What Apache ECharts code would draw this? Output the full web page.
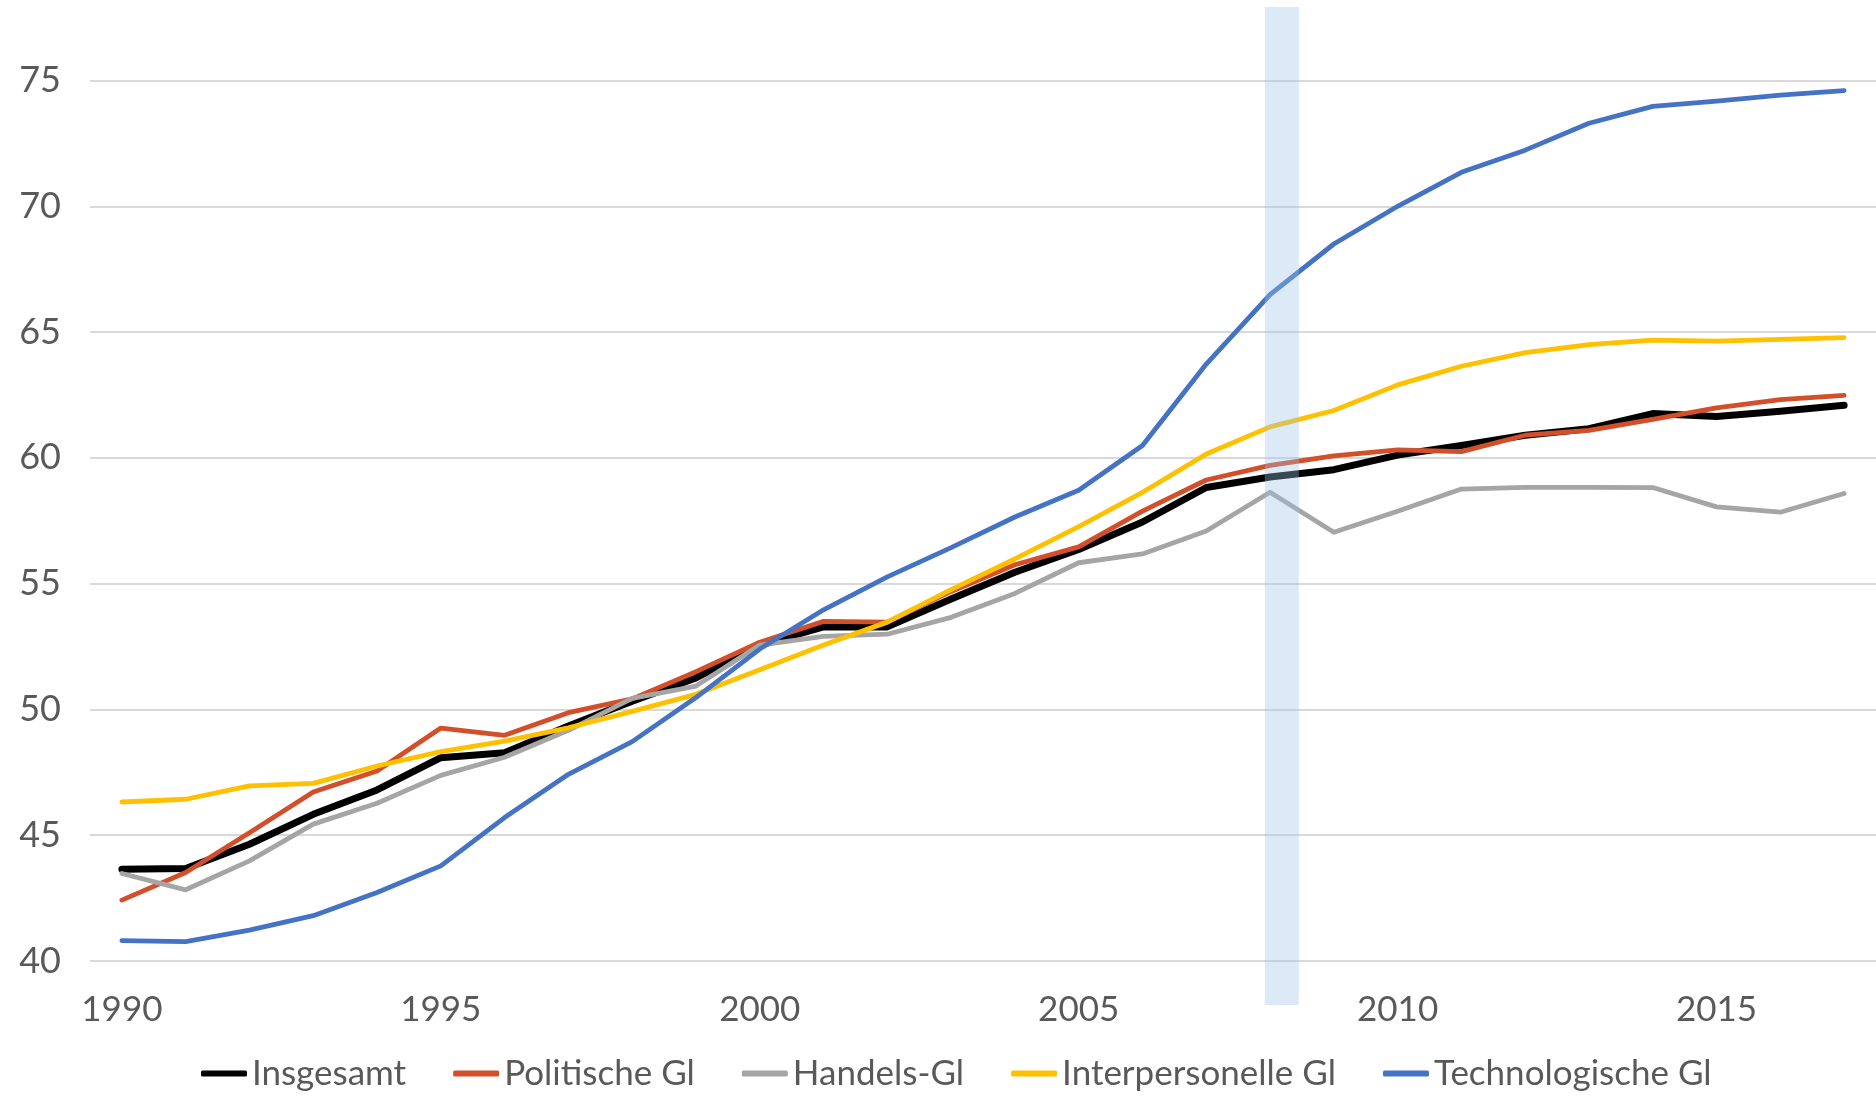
<!DOCTYPE html>
<html>
<head>
<meta charset="utf-8">
<style>
  html, body { margin: 0; padding: 0; background: #fff; }
  #main { width: 1876px; height: 1097px; }
</style>
</head>
<body>
<div id="main"></div>
<script src="https://cdn.jsdelivr.net/npm/echarts@6/dist/echarts.min.js"></script>
<script>
    // Jahre 1990-2017
    var jahre = [];
    for (var j = 1990; j <= 2017; j++) jahre.push(String(j));

    var insgesamt = [43.65, 43.68, 44.64, 45.83, 46.8, 48.08, 48.28, 49.34, 50.33, 51.25,
                     52.56, 53.28, 53.28, 54.39, 55.45, 56.36, 57.45, 58.82, 59.24, 59.53,
                     60.11, 60.49, 60.9, 61.16, 61.76, 61.64, 61.85, 62.09];
    var politisch = [42.42, 43.52, 45.1, 46.72, 47.55, 49.26, 48.97, 49.87, 50.42, 51.5,
                     52.67, 53.5, 53.47, 54.69, 55.75, 56.46, 57.88, 59.12, 59.7, 60.08,
                     60.32, 60.25, 60.9, 61.09, 61.53, 61.99, 62.31, 62.48];
    var handel = [43.48, 42.83, 43.98, 45.44, 46.27, 47.38, 48.1, 49.17, 50.44, 50.93,
                  52.56, 52.9, 52.99, 53.66, 54.61, 55.83, 56.18, 57.09, 58.63, 57.04,
                  57.88, 58.76, 58.83, 58.83, 58.82, 58.05, 57.84, 58.58];
    var interpersonell = [46.32, 46.43, 46.96, 47.06, 47.75, 48.32, 48.74, 49.27, 49.92, 50.6,
                          51.58, 52.56, 53.47, 54.76, 55.98, 57.27, 58.63, 60.15, 61.23, 61.88,
                          62.9, 63.64, 64.18, 64.5, 64.68, 64.64, 64.71, 64.78];
    var technologisch = [40.81, 40.77, 41.23, 41.8, 42.72, 43.78, 45.7, 47.42, 48.72, 50.47,
                         52.4, 53.96, 55.27, 56.43, 57.65, 58.71, 60.49, 63.73, 66.49, 68.5,
                         70.0, 71.35, 72.23, 73.3, 73.97, 74.18, 74.42, 74.6];
    // Finanzkrise 2008 (hinterlegter Balken, Anfang/Ende in Jahren)
    var krise = [2007.92, 2008.45];

    var schrift = 'Lato, "Open Sans", sans-serif';
    var grau = '#595959';

    var myChart = echarts.init(document.getElementById('main'));

    function linie(name, daten, farbe, breite) {
        return {
            name: name,
            type: 'line',
            data: daten,
            symbol: 'none',
            smooth: false,
            lineStyle: { color: farbe, width: breite, cap: 'round', join: 'round' },
            itemStyle: { color: farbe }
        };
    }

    var option = {
        backgroundColor: '#ffffff',
        animation: false,
        grid: [
            { left: 90, right: 0, top: 5, bottom: 136 },
            { left: 90, right: 0, top: 7, bottom: 92 }
        ],
        legend: {
            left: 196,
            top: 1051,
            icon: 'roundRect',
            itemWidth: 46,
            itemHeight: 6,
            itemGap: 47,
            textStyle: { fontFamily: schrift, fontSize: 35, color: grau },
            data: ['Insgesamt', 'Politische Gl', 'Handels-Gl', 'Interpersonelle Gl', 'Technologische Gl']
        },
        xAxis: [
            {
                type: 'category',
                gridIndex: 0,
                data: jahre,
                boundaryGap: true,
                axisLine: { show: false },
                axisTick: { show: false },
                axisLabel: {
                    interval: 4,
                    margin: 31,
                    fontFamily: schrift,
                    fontSize: 35,
                    color: grau
                },
                splitLine: { show: false }
            },
            {
                type: 'value',
                gridIndex: 1,
                min: 1989.5,
                max: 2017.5,
                show: false
            }
        ],
        yAxis: [
            {
                type: 'value',
                gridIndex: 0,
                min: 40,
                max: 78,
                interval: 5,
                axisLine: { show: false },
                axisTick: { show: false },
                axisLabel: {
                    margin: 29,
                    showMaxLabel: false,
                    fontFamily: schrift,
                    fontSize: 36,
                    color: grau
                },
                splitLine: {
                    show: true,
                    showMaxLine: false,
                    lineStyle: { color: '#d9d9d9', width: 2 }
                }
            },
            {
                type: 'value',
                gridIndex: 1,
                min: 0,
                max: 1,
                show: false
            }
        ],
        series: [
            linie('Insgesamt', insgesamt, '#000000', 7),
            linie('Politische Gl', politisch, '#D24F2A', 4.8),
            linie('Handels-Gl', handel, '#A5A5A5', 4.8),
            linie('Interpersonelle Gl', interpersonell, '#FFC000', 4.8),
            linie('Technologische Gl', technologisch, '#4472C4', 4.8),
            {
                name: 'Krise',
                type: 'bar',
                xAxisIndex: 1,
                yAxisIndex: 1,
                z: 10,
                silent: true,
                barWidth: 34,
                itemStyle: { color: 'rgba(157,195,230,0.36)' },
                data: [[(krise[0] + krise[1]) / 2, 1]]
            }
        ]
    };

    myChart.setOption(option);
</script>
</body>
</html>
